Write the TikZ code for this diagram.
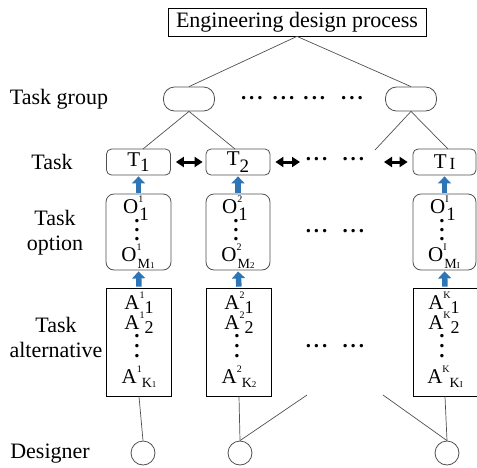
\documentclass[tikz,border=0pt]{standalone}
\usepackage{fontspec}
\setmainfont{Liberation Serif}
\newfontfamily\timesfont{Liberation Serif}
\usetikzlibrary{arrows.meta}

\definecolor{arrowblue}{RGB}{46,117,182}
\definecolor{linegray}{RGB}{80,80,80}

% symbols with super- and subscript
\newcommand{\optsym}[3]{#1\rlap{\raisebox{.55em}{\fontsize{10}{10}\selectfont #2}}\kern1pt\raisebox{-.3em}{#3}}
\newcommand{\altsym}[3]{#1\raisebox{.5em}{\fontsize{10}{10}\selectfont #2}\raisebox{-.2em}{#3}}
\newcommand{\smallsub}[2]{{\fontsize{14}{14}\selectfont #1}{\fontsize{9}{9}\selectfont #2}}
\newcommand{\tridots}{\textbf{.\kern3pt.\kern3pt.}}

\begin{document}
\begin{tikzpicture}[x=1pt,y=-1pt,
  every node/.style={font=\timesfont\fontsize{21}{24}\selectfont},
  tbox/.style={draw=linegray,line width=0.8pt,rounded corners=5pt,minimum width=64pt,minimum height=26pt,inner sep=0pt},
  obox/.style={draw=linegray,line width=0.8pt,rounded corners=8pt,minimum width=64pt,minimum height=76pt,inner sep=0pt},
  abox/.style={draw=black,line width=0.8pt,minimum width=65pt,minimum height=108pt,inner sep=0pt},
  gbox/.style={draw=linegray,line width=0.8pt,rounded corners=11pt,minimum width=51pt,minimum height=24pt,inner sep=0pt},
  dbox/.style={draw=linegray,line width=0.8pt,circle,minimum size=24pt,inner sep=0pt},
  entry/.style={inner sep=0pt},
  link/.style={draw=linegray,line width=0.7pt},
  uparrow/.style={draw=arrowblue,line width=5.5pt,-{Triangle[width=13pt,length=7pt]},shorten <=1pt,shorten >=1pt},
  twoway/.style={draw=black,line width=3pt,{Triangle[width=10pt,length=8pt]}-{Triangle[width=10pt,length=8pt]}},
  vdotsq/.style={font=\timesfont\fontsize{21}{9}\selectfont\bfseries,align=center,inner sep=0pt},
  label/.style={align=center,inner sep=0pt,font=\timesfont\fontsize{22}{25}\selectfont}]
\useasboundingbox (0,0) rectangle (477,467);

% levels on the left
\node[label] (lgroup) at (59,99) {Task group};
\node[label] (ltask) at (52,162) {Task};
\node[label] (loption) at (55,233) {Task\\option};
\node[label] (lalt) at (56,337) {Task\\alternative};
\node[label] (ldesigner) at (50,454) {Designer};

% top
\node[draw=black,line width=0.8pt,minimum width=258pt,minimum height=28pt,inner sep=0pt,font=\timesfont\fontsize{22}{24}\selectfont] (edp) at (297,22) {Engineering design process};

% task groups
\node[gbox] (g1) at (189,99) {};
\node[gbox] (g2) at (411,99) {};
\node[entry] (gdots) at (302,98) {\tridots\hspace{10pt}\tridots\hspace{9pt}\tridots\hspace{16pt}\tridots};
\draw[link] (edp.south) -- (g1.north);
\draw[link] (edp.south) -- (g2.north);

% tasks
\node[tbox] (t1) at (138.5,162) {T\raisebox{-.25em}{\fontsize{19}{19}\selectfont 1}};
\node[tbox] (t2) at (238,162) {T\raisebox{-.3em}{\fontsize{19}{19}\selectfont 2}};
\node[tbox,minimum width=63pt] (tI) at (444.5,162) {T\kern3pt\raisebox{-.05em}{\fontsize{17}{17}\selectfont I}};
\node[entry] (tdots) at (335,159) {\tridots\hspace{15pt}\tridots};
\coordinate (tfree) at (300,162);
\coordinate (gfree) at (375,150);
\draw[link] (g1.south) -- (143,149);
\draw[link] (g1.south) -- (235,149);
\draw[link] (g2.south) -- (gfree);
\draw[link] (g2.south) -- (448,149);
\draw[twoway] ([xshift=5pt]t1.east) -- ([xshift=-3pt]t2.west);
\draw[twoway] ([xshift=5pt]t2.east) -- (tfree);
\draw[twoway] (384,162) coordinate (tfree2) -- ([xshift=-5pt]tI.west);

% task options
\node[obox,minimum width=65pt] (o1) at (138.5,232) {};
\node[obox] (o2) at (238,232) {};
\node[obox,minimum width=63pt] (oI) at (444.5,232) {};
\node[entry] (o1a) at (136,208) {\optsym{O}{1}{\fontsize{19}{19}\selectfont 1}};
\node[vdotsq] (o1v) at (137,230) {.\\.\\.};
\node[entry] (o1b) at (138,256) {\optsym{O}{1}{\smallsub{M}{1}}};
\node[entry] (o2a) at (235,208) {\optsym{O}{2}{\fontsize{19}{19}\selectfont 1}};
\node[vdotsq] (o2v) at (236,230) {.\\.\\.};
\node[entry] (o2b) at (238,256) {\optsym{O}{2}{\smallsub{M}{2}}};
\node[entry] (oIa) at (443,208) {\optsym{O}{I}{\fontsize{19}{19}\selectfont 1}};
\node[vdotsq] (oIv) at (442,230) {.\\.\\.};
\node[entry] (oIb) at (444,256) {\optsym{O}{I}{\smallsub{M}{I}}};
\node[entry] (odots) at (335,231) {\tridots\hspace{15pt}\tridots};
\draw[uparrow] (o1.north) -- (t1.south);
\draw[uparrow] (o2.north) -- (t2.south);
\draw[uparrow] (oI.north) -- (tI.south);

% task alternatives
\node[abox] (a1) at (139,342) {};
\node[abox] (a2) at (239,342) {};
\node[abox,minimum width=64pt] (aI) at (445,342) {};
\node[entry] (a1a) at (139,303) {\altsym{A}{1}{\fontsize{18}{18}\selectfont 1}};
\node[entry] (a1b) at (139,323) {\altsym{A}{1}{\fontsize{18}{18}\selectfont 2}};
\node[vdotsq,font=\timesfont\fontsize{21}{10}\selectfont\bfseries] (a1v) at (137,346) {.\\.\\.};
\node[entry] (a1c) at (139,377) {\altsym{A}{1}{\smallsub{K}{1}}};
\node[entry] (a2a) at (239,303) {\altsym{A}{2}{\fontsize{18}{18}\selectfont 1}};
\node[entry] (a2b) at (239,323) {\altsym{A}{2}{\fontsize{18}{18}\selectfont 2}};
\node[vdotsq,font=\timesfont\fontsize{21}{10}\selectfont\bfseries] (a2v) at (237,346) {.\\.\\.};
\node[entry] (a2c) at (239,377) {\altsym{A}{2}{\smallsub{K}{2}}};
\node[entry] (aIa) at (444,303) {\altsym{A}{K}{\fontsize{18}{18}\selectfont 1}};
\node[entry] (aIb) at (444,323) {\altsym{A}{K}{\fontsize{18}{18}\selectfont 2}};
\node[vdotsq,font=\timesfont\fontsize{21}{10}\selectfont\bfseries] (aIv) at (442,346) {.\\.\\.};
\node[entry] (aIc) at (445,377) {\altsym{A}{K}{\smallsub{K}{I}}};
\node[entry] (adots) at (335,346) {\tridots\hspace{15pt}\tridots};
\draw[uparrow] (a1.north) -- (o1.south);
\draw[uparrow] (a2.north) -- (o2.south);
\draw[uparrow] (aI.north) -- (oI.south);

% designers
\node[dbox] (d1) at (143,453) {};
\node[dbox] (d2) at (240,453) {};
\node[dbox] (d3) at (447,453) {};
\coordinate (dfree1) at (307,395);
\coordinate (dfree2) at (383,395);
\draw[link] (a1.south) -- (d1.north);
\draw[link] (a2.south) -- (d2.north);
\draw[link] (d2.north) -- (dfree1);
\draw[link] (dfree2) -- (d3.north);
\draw[link] (aI.south) -- (d3.north);

\end{tikzpicture}
\end{document}
